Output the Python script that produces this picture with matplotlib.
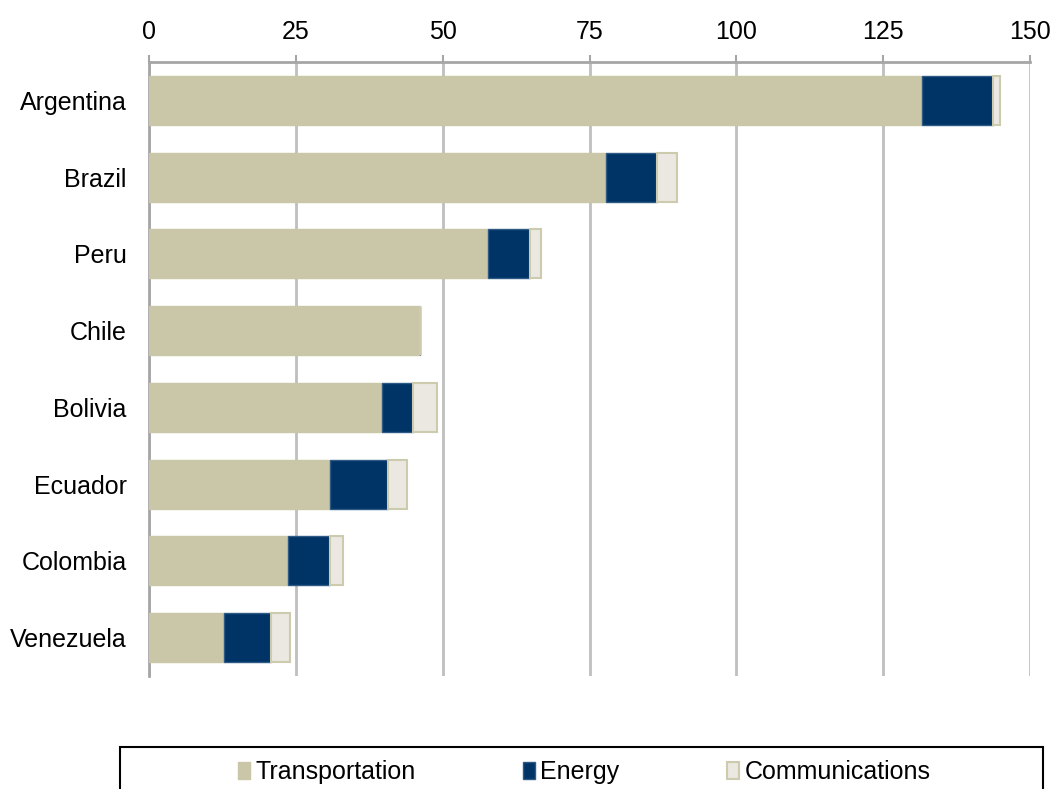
import matplotlib.pyplot as plt
import numpy as np
from matplotlib.patches import Rectangle

plt.rcParams['font.family'] = ['Liberation Sans', 'DejaVu Sans']

# ===================================================== Data ===================================================== #

countries = ['Argentina', 'Brazil', 'Peru', 'Chile', 'Bolivia', 'Ecuador', 'Colombia', 'Venezuela']
transportation = [131.6, 77.8, 57.7, 46.1, 39.7, 30.8, 23.7, 12.8]
energy = [12.1, 8.7, 7.2, 0.0, 5.3, 9.9, 7.1, 8.0]
communications = [1.2, 3.4, 1.8, 0.0, 4.0, 3.2, 2.2, 3.2]
x_ticks = [0, 25, 50, 75, 100, 125, 150]

# ===================================================== Plot ===================================================== #


def main():
    fig = plt.figure(figsize=(10.52, 7.89), dpi=100)
    ax = fig.add_axes([149 / 1052, 1 - 676 / 789, (1030 - 149) / 1052, (676 - 62) / 789])

    y = np.arange(len(countries))
    h = 0.64
    t = np.array(transportation)
    e = np.array(energy)
    c = np.array(communications)

    ax.barh(y, t, height=h, color='#C9C7A7', edgecolor='#C9C7A7', linewidth=1, label='Transportation', zorder=3)
    ax.barh(y, e, left=t, height=h, color='#003366', edgecolor='#2E5A85', linewidth=1, label='Energy', zorder=3)
    ax.barh(y, c, left=t + e, height=h, color='#EAE8E1', edgecolor='#CDCBAE', linewidth=1.5,
            label='Communications', zorder=3)

    ax.set_xlim(0, 150)
    ax.set_ylim(len(countries) - 0.5, -0.5)
    ax.set_yticks(y)
    ax.set_yticklabels(countries, fontsize=18)
    ax.set_xticks(x_ticks)
    ax.set_xticklabels([str(v) for v in x_ticks], fontsize=18)
    ax.xaxis.tick_top()
    ax.tick_params(axis='x', top=True, bottom=False, length=5, width=1.5, color='#A6A6A6', pad=8)
    ax.tick_params(axis='y', length=0, pad=16)

    ax.grid(axis='x', color='#BFBFBF', linewidth=2, zorder=0)
    for side in ('right', 'bottom'):
        ax.spines[side].set_visible(False)
    ax.spines['top'].set_color('#A6A6A6')
    ax.spines['top'].set_linewidth(2)
    ax.spines['left'].set_color('#A6A6A6')
    ax.spines['left'].set_linewidth(2)

    # legend frame partly cut off at the bottom of the picture
    fig.patches.append(Rectangle((120 / 1052, -0.02), (1043 - 120) / 1052, 0.02 + 1 - 747 / 789,
                                 transform=fig.transFigure, fill=False, edgecolor='black', linewidth=1.5))
    fig.legend(loc='center', bbox_to_anchor=(584 / 1052, 1 - 772 / 789), ncol=3, frameon=False,
               fontsize=18, handlelength=0.5, handleheight=0.7, handletextpad=0.2, columnspacing=4.3)

    fig.savefig('out.png', dpi=100)


if __name__ == '__main__':
    main()
